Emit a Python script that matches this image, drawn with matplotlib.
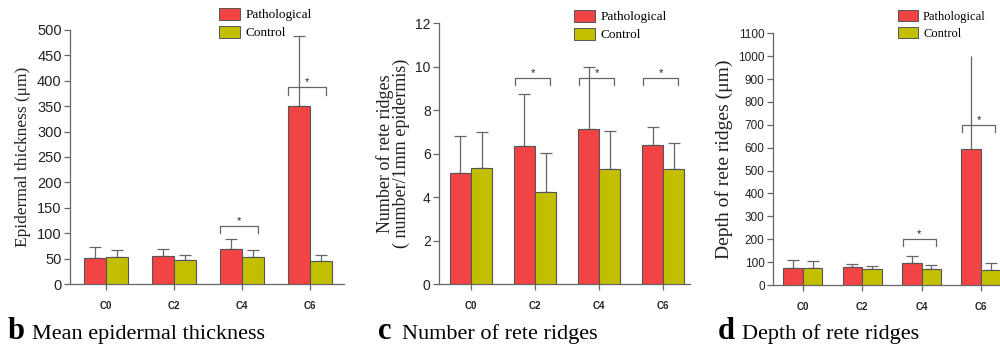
import matplotlib
matplotlib.use("Agg")
import matplotlib.pyplot as plt
from matplotlib.patches import Patch
import numpy as np

categories = ["C0", "C2", "C4", "C6"]

# Panel b: Mean epidermal thickness
b_path = [52, 56, 69, 350]
b_path_err = [20, 12, 19, 138]
b_ctrl = [53, 48, 54, 45]
b_ctrl_err = [14, 9, 13, 12]
b_sig = {2: (114, 100), 3: (388, 372)}

# Panel c: Number of rete ridges
c_path = [5.1, 6.35, 7.15, 6.42]
c_path_err = [1.7, 2.4, 2.85, 0.8]
c_ctrl = [5.35, 4.25, 5.3, 5.3]
c_ctrl_err = [1.65, 1.8, 1.75, 1.18]
c_sig = {1: (9.5, 9.15), 2: (9.5, 9.15), 3: (9.5, 9.15)}

# Panel d: Depth of rete ridges
d_path = [74, 77, 96, 594]
d_path_err = [34, 15, 32, 406]
d_ctrl = [73, 70, 70, 67]
d_ctrl_err = [32, 14, 16, 29]
d_sig = {2: (200, 169), 3: (700, 668)}

RED = "#F24444"
OLIVE = "#C2BF00"
EDGE = "#555555"
GREY = "#666666"

W, H = 1000, 350
fig = plt.figure(figsize=(10, 3.5), dpi=100)


def rect(left, right, ybottom, ytop):
    return [left / W, (H - ybottom) / H, (right - left) / W, (ybottom - ytop) / H]


def panel(r, xlim, ylim, yticks, path, perr, ctrl, cerr, sig, ytick_size,
          ylabel, ylabel_size, leg_anchor, leg_size, nocap=()):
    ax = fig.add_axes(r)
    x = np.arange(len(categories))
    bw = 0.33
    ax.bar(x - bw / 2, path, bw, color=RED, edgecolor=EDGE, linewidth=0.8, zorder=3)
    ax.bar(x + bw / 2, ctrl, bw, color=OLIVE, edgecolor=EDGE, linewidth=0.8, zorder=3)
    for i in range(len(categories)):
        cs = 0 if i in nocap else 4.5
        ax.errorbar(x[i] - bw / 2, path[i], yerr=[[0], [perr[i]]], fmt="none",
                    ecolor=GREY, elinewidth=0.9, capsize=cs, capthick=0.9, zorder=2)
        ax.errorbar(x[i] + bw / 2, ctrl[i], yerr=[[0], [cerr[i]]], fmt="none",
                    ecolor=GREY, elinewidth=0.9, capsize=4.5, capthick=0.9, zorder=2)
    for i, (top, end) in sig.items():
        x0, x1 = x[i] - 0.32, x[i] + 0.24
        ax.plot([x0, x0, x1, x1], [end, top, top, end], color=GREY, lw=0.9,
                zorder=4, clip_on=False)
        ax.text((x0 + x1) / 2, top, "*", ha="center", va="bottom", fontsize=8,
                color="#222222", family="Liberation Sans")
    ax.set_xlim(*xlim)
    ax.set_ylim(*ylim)
    ax.set_yticks(yticks)
    ax.set_xticks(x)
    ax.set_xticklabels(categories, fontsize=7, fontweight="bold",
                       family=["Liberation Sans Narrow", "Liberation Sans"])
    for s in ["top", "right"]:
        ax.spines[s].set_visible(False)
    for s in ["left", "bottom"]:
        ax.spines[s].set_color(GREY)
        ax.spines[s].set_linewidth(0.9)
    ax.tick_params(axis="y", length=4, width=0.9, color=GREY, labelsize=ytick_size,
                   pad=2, labelcolor="#222222")
    ax.tick_params(axis="x", length=4, width=0.9, color=GREY, pad=8,
                   labelcolor="#222222")
    for t in ax.get_yticklabels():
        t.set_family("Liberation Sans")
    ax.set_ylabel(ylabel, family="Liberation Serif", fontsize=ylabel_size,
                  color="#222222", labelpad=4, linespacing=0.9)
    handles = [Patch(facecolor=RED, edgecolor=EDGE, linewidth=0.7),
               Patch(facecolor=OLIVE, edgecolor=EDGE, linewidth=0.7)]
    ax.legend(handles, ["Pathological", "Control"], loc="upper left",
              bbox_to_anchor=(leg_anchor[0] / W, 1 - leg_anchor[1] / H),
              bbox_transform=fig.transFigure, frameon=False,
              prop={"family": "Liberation Serif", "size": leg_size},
              handlelength=1.6, handleheight=1.0, handletextpad=0.4,
              labelspacing=0.35, borderpad=0, borderaxespad=0)
    return ax


axb = panel(rect(70, 344, 284, 30), (-0.53, 3.5), (0, 500), range(0, 501, 50),
            b_path, b_path_err, b_ctrl, b_ctrl_err, b_sig, 10.5,
            "Epidermal thickness (\u03bcm)", 12.5, (219, 8), 9.5)
axc = panel(rect(439, 690, 284, 23.3), (-0.5, 3.42), (0, 12), range(0, 13, 2),
            c_path, c_path_err, c_ctrl, c_ctrl_err, c_sig, 10,
            "Number of rete ridges\n( number/1mm epidermis)", 13, (574, 10), 9.5)
axd = panel(rect(773, 1000, 285, 33.3), (-0.5, 3.32), (0, 1100), range(0, 1101, 100),
            d_path, d_path_err, d_ctrl, d_ctrl_err, d_sig, 8.5,
            "Depth of rete ridges (\u03bcm)", 14, (898, 10), 9, nocap=(3,))

# Bottom panel titles
titles = [("b", "Mean epidermal thickness", 8),
          ("c", "Number of rete ridges", 378),
          ("d", "Depth of rete ridges", 718)]
for letter, text, xp in titles:
    fig.text(xp / W, 1 - 339 / H, letter, family="Liberation Serif",
             fontweight="bold", fontsize=22, ha="left", va="baseline")
    fig.text((xp + 24) / W, 1 - 339 / H, text, family="Liberation Serif",
             fontsize=16, ha="left", va="baseline")

fig.savefig("out.png", dpi=100)
